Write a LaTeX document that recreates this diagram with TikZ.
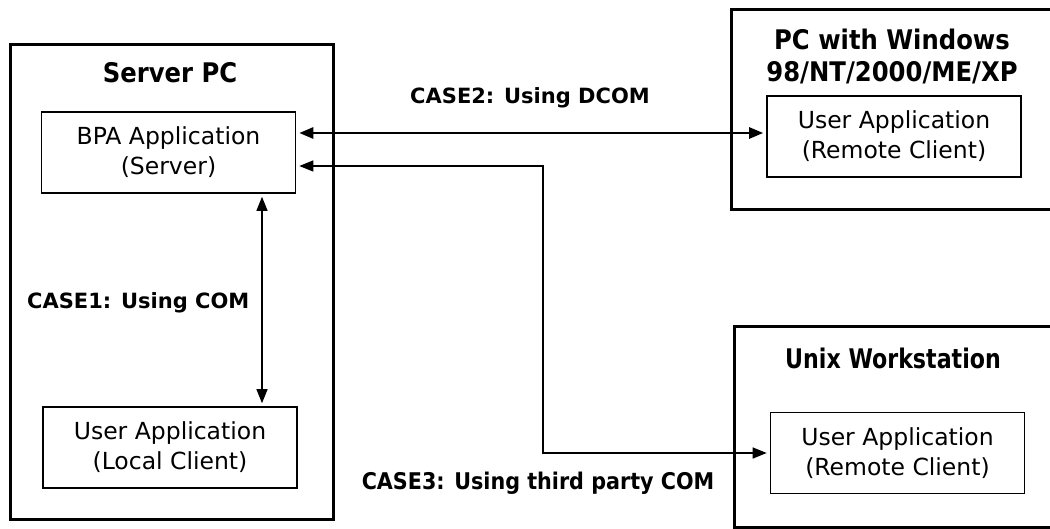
\documentclass[tikz,border=0pt]{standalone}
\usepackage{fontspec}
\setmainfont{DejaVu Sans}
\newfontfamily\titlefont[FakeStretch=0.9]{DejaVu Sans}
\newfontfamily\unixfont[FakeStretch=0.82]{DejaVu Sans}
\usetikzlibrary{arrows.meta}
\begin{document}
\begin{tikzpicture}[x=1pt,y=-1pt,
  outerbox/.style={draw, line width=3pt, anchor=north west, inner sep=0pt},
  appbox/.style={draw, line width=1.6pt, inner sep=0pt, align=center,
    minimum width=254pt, minimum height=81pt,
    font=\fontsize{23.5}{30}\selectfont},
  titletext/.style={font=\titlefont\bfseries\fontsize{27}{32}\selectfont, align=center, inner sep=0pt},
  casetext/.style={font=\bfseries\fontsize{21}{25}\selectfont, inner sep=0pt},
  tip/.tip={Triangle[length=14pt,width=11pt]},
  link/.style={line width=1.3pt, tip-tip, shorten <=3pt, shorten >=3pt},
  thicklink/.style={link, line width=2.6pt}
]
\useasboundingbox (0,0) rectangle (1050,529);
\fill[white] (0,0) rectangle (1050,529);

% outer machines
\node[outerbox, minimum width=323pt, minimum height=475pt] (server) at (9,43) {};
\node[outerbox, minimum width=340pt, minimum height=200pt] (pc) at (730,8) {};
\node[outerbox, minimum width=340pt, minimum height=201pt] (unix) at (733,325) {};

% titles
\node[titletext] (servertitle) at (170,73) {Server PC};
\node[titletext] (pctitle) at (892,56) {PC with Windows\\98/NT/2000/ME/XP};
\node[titletext, font=\unixfont\bfseries\fontsize{27}{32}\selectfont] (unixtitle) at (893,358) {Unix Workstation};

% application boxes
\node[appbox] (bpa) at (168.5,152.5) {BPA Application\\(Server)};
\node[appbox] (local) at (170,447.5) {User Application\\(Local Client)};
\node[appbox] (pcapp) at (894,136.5) {User Application\\(Remote Client)};
\node[appbox] (unixapp) at (897.5,453) {User Application\\(Remote Client)};

% helper coordinates
\coordinate (y2) at (0,133);
\coordinate (y3) at (0,166);
\coordinate (x1) at (262,0);
\coordinate (x3) at (543,0);

% connectors
\draw[link] (bpa.south -| x1) -- (local.north -| x1);
\draw[thicklink] (bpa.east |- y2) -- (pcapp.west |- y2);
\draw[link] (bpa.east |- y3) -| (x3 |- unixapp.west) -- (unixapp.west);

% labels
\node[casetext, anchor=west] (case1) at (27,303) {CASE1: Using COM};
\node[casetext] (case2) at (530,98) {CASE2: Using DCOM};
\node[casetext, font=\titlefont\bfseries\fontsize{23}{27}\selectfont] (case3) at (538,483) {CASE3: Using third party COM};
\end{tikzpicture}
\end{document}
